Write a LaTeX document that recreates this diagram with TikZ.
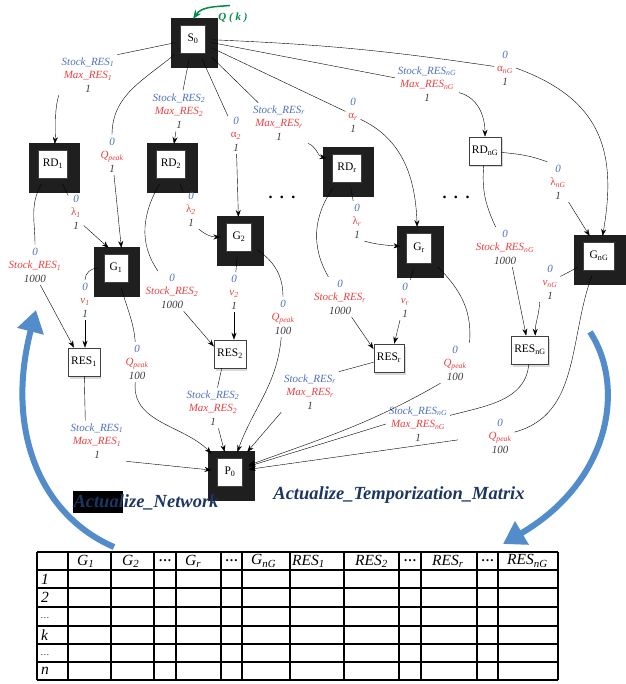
\documentclass[tikz,border=0pt]{standalone}
\usepackage{fontspec}
\setmainfont{Liberation Serif}
\usetikzlibrary{arrows.meta,shadows}
\pgfdeclarelayer{back}
\pgfsetlayers{back,main}

\definecolor{lblue}{RGB}{76,112,196}
\definecolor{lred}{RGB}{236,64,64}
\definecolor{lgray}{RGB}{60,60,60}
\definecolor{qgreen}{RGB}{0,140,70}
\definecolor{bigblue}{RGB}{82,140,202}
\definecolor{navy}{RGB}{28,54,100}

\newcommand{\trio}[3]{\textcolor{lblue}{#1}\\\textcolor{lred}{#2}\\\textcolor{lgray}{#3}}
\newcommand{\stk}[1]{Stock\_RES\textsubscript{#1}}
\newcommand{\mx}[1]{Max\_RES\textsubscript{#1}}
\newcommand{\qpk}{Q\textsubscript{peak}}
\newcommand{\gk}[2]{\textup{#1}\textsubscript{#2}}
\newcommand{\rdots}{{\fontsize{9}{9}\selectfont\ldots}}

\tikzset{
	box/.style={draw=black!75, line width=0.6pt, fill=white, minimum width=25pt, minimum height=28pt, inner sep=3pt, font=\fontsize{11.5}{12}\selectfont},
	dark/.style={box, outer sep=6pt},
	soft/.style={box, drop shadow={opacity=0.3, shadow xshift=1.5pt, shadow yshift=-2.5pt}},
	lab/.style={align=center, inner sep=1pt, outer sep=2pt, font=\fontsize{11}{13.5}\selectfont\itshape},
	act/.style={text=navy, font=\fontsize{18.5}{18.5}\selectfont\bfseries\itshape, inner sep=1pt},
	big/.style={bigblue, line width=6pt, -{Triangle[length=22pt,width=26pt]}},
	cell/.style={font=\fontsize{15.5}{15.5}\selectfont\itshape, inner sep=0pt, anchor=west},
	ell/.style={font=\fontsize{16}{16}\selectfont\bfseries},
}

\begin{document}
\begin{tikzpicture}[x=1pt,y=1pt,>={Stealth[length=7pt,width=5pt]},line width=0.7pt]
	\useasboundingbox (0,0) rectangle (625,-684);

	% The boxes
	\node[dark] (s0) at (193,-39) {S\textsubscript{0}};
	\node[dark,minimum width=29pt] (rd1) at (53,-164) {RD\textsubscript{1}};
	\node[dark,minimum width=29pt] (rd2) at (171,-164) {RD\textsubscript{2}};
	\node[dark,minimum width=29pt] (rdr) at (347,-168) {RD\textsubscript{r}};
	\node[soft] (rdng) at (485,-151) {RD\textsubscript{nG}};
	\node[dark,minimum width=24pt] (g1) at (116,-268) {G\textsubscript{1}};
	\node[dark] (g2) at (239,-237) {G\textsubscript{2}};
	\node[dark,minimum height=30pt] (gr) at (419,-248) {G\textsubscript{r}};
	\node[dark,minimum width=31pt] (gng) at (599,-256) {G\textsubscript{nG}};
	\node[soft] (res1) at (84,-362) {RES\textsubscript{1}};
	\node[soft] (res2) at (230,-354) {RES\textsubscript{2}};
	\node[soft] (resr) at (389,-358) {RES\textsubscript{r}};
	\node[soft] (resng) at (530,-350) {RES\textsubscript{nG}};
	\node[dark] (p0) at (230,-472) {P\textsubscript{0}};

	% The dark frames
	\begin{pgfonlayer}{back}
		\foreach \n in {s0,rd1,rd2,rdr,g1,g2,gr,gng,p0}
			\fill[black!88] ([shift={(-4,1)}]\n.north west) rectangle ([shift={(6,-9)}]\n.south east);
	\end{pgfonlayer}

	% The labels
	\node[lab] (l1) at (88,-75) {\trio{\stk{1}}{\mx{1}}{1}};
	\node[lab] (l2) at (112,-155) {\trio{0}{\qpk}{1}};
	\node[lab] (l3) at (179,-111) {\trio{\stk{2}}{\mx{2}}{1}};
	\node[lab] (l4) at (236,-134) {\trio{0}{\gk{α}{2}}{1}};
	\node[lab] (l5) at (279,-123) {\trio{\stk{r}}{\mx{r}}{1}};
	\node[lab] (l6) at (353,-115) {\trio{0}{\gk{α}{r}}{1}};
	\node[lab] (l7) at (427,-84) {\trio{\stk{nG}}{\mx{nG}}{1}};
	\node[lab] (l8) at (505,-68) {\trio{0}{\gk{α}{nG}}{1}};
	\node[lab] (l9) at (76,-212) {\trio{0}{\gk{λ}{1}}{1}};
	\node[lab] (l10) at (35,-265) {\trio{0}{\stk{1}}{1000}};
	\node[lab] (l11) at (85,-300) {\trio{0}{v\textsubscript{1}}{1}};
	\node[lab] (l12) at (137,-362) {\trio{0}{\qpk}{100}};
	\node[lab] (l13) at (172,-291) {\trio{0}{\stk{2}}{1000}};
	\node[lab] (l14) at (191,-209) {\trio{0}{\gk{λ}{2}}{1}};
	\node[lab] (l15) at (234,-292) {\trio{0}{v\textsubscript{2}}{1}};
	\node[lab] (l16) at (283,-317) {\trio{0}{\qpk}{100}};
	\node[lab] (l17) at (213,-408) {\trio{\stk{2}}{\mx{2}}{1}};
	\node[lab] (l18) at (97,-441) {\trio{\stk{1}}{\mx{1}}{1}};
	\node[lab] (l19) at (357,-221) {\trio{0}{\gk{λ}{r}}{1}};
	\node[lab] (l20) at (340,-297) {\trio{0}{\stk{r}}{1000}};
	\node[lab] (l21) at (405,-300) {\trio{0}{v\textsubscript{r}}{1}};
	\node[lab] (l22) at (455,-363) {\trio{0}{\qpk}{100}};
	\node[lab] (l23) at (310,-392) {\trio{\stk{r}}{\mx{r}}{1}};
	\node[lab] (l24) at (505,-247) {\trio{0}{\stk{nG}}{1000}};
	\node[lab] (l25) at (558,-182) {\trio{0}{\gk{λ}{nG}}{1}};
	\node[lab] (l26) at (550,-282) {\trio{0}{v\textsubscript{nG}}{1}};
	\node[lab] (l27) at (500,-436) {\trio{0}{\qpk}{100}};
	\node[lab] (l28) at (418,-424) {\trio{\stk{nG}}{\mx{nG}}{1}};

	\node[ell] (dots1) at (282,-197) {.\hspace{7.5pt}.\hspace{7.5pt}.};
	\node[ell] (dots2) at (456,-197) {.\hspace{7.5pt}.\hspace{7.5pt}.};

	% The input
	\node[text=qgreen, font=\fontsize{11}{11}\selectfont\bfseries\itshape] (qk) at (233,-18) {Q ( k )};
	\draw[-{Stealth[length=9pt,width=7pt]},qgreen,line width=1.5pt] ([shift={(-3,4)}]qk.north) to[out=185,in=55] (s0.north);

	% Edges out of the source
	\draw (s0) -- (l1.north east);
	\draw[->] (l1.south west) to[out=-105,in=85] (rd1);
	\draw (s0) to[out=220,in=90] (l2);
	\draw[->] (l2) -- (g1.75);
	\draw (s0) -- (l3);
	\draw[->] (l3) -- (rd2);
	\draw (s0) -- (l4);
	\draw[->] (l4) -- (g2);
	\draw (s0) -- (l5);
	\draw[->] (l5.south east) to[out=-20,in=165] (rdr.155);
	\draw (s0) -- (l6);
	\draw[->] (l6.-30) to[out=-25,in=92] (gr.95);
	\draw (s0) -- (l7);
	\draw[->] (l7.-15) to[out=-15,in=90] (rdng);
	\draw (s0) to[bend left=3] (l8);
	\draw[->] (l8.east) to[out=-20,in=80,looseness=1.2] (gng.80);

	% First group
	\draw (rd1) -- (l9);
	\draw[->] (l9.-60) -- (g1.110);
	\draw (rd1) to[out=-120,in=90] (l10);
	\draw[->] (l10.-75) -- (res1.125);
	\draw (g1) to[out=180,in=90] (l11);
	\draw[->] (l11) -- (l11 |- res1.north);
	\draw (g1) to[out=-75,in=95] (l12);
	\draw[->] (l12) to[out=-95,in=135] (p0);
	\draw (res1) -- (l18.120);
	\draw[->] (l18.south east) -- (p0);

	% Second group
	\draw (rd2) -- (l14);
	\draw[->] (l14.south east) to[out=-40,in=180] (g2);
	\draw (rd2) to[out=-120,in=125] (l13);
	\draw[->] (l13.-60) -- (res2.155);
	\draw (g2) -- (l15);
	\draw[->] (l15) -- (l15 |- res2.north);
	\draw (g2) to[out=-35,in=90] (l16);
	\draw[->] (l16) to[out=-95,in=70] (p0);
	\draw (res2.-120) -- (l17);
	\draw[->] (l17) -- (p0);

	% Group r
	\draw (rdr) -- (l19);
	\draw[->] (l19.south east) to[out=-15,in=175] (gr);
	\draw (rdr) to[out=-125,in=120] (l20);
	\draw[->] (l20.-60) -- (resr.150);
	\draw (gr) -- (l21);
	\draw[->] (l21) -- (resr.70);
	\draw (gr) to[out=-45,in=85] (l22.north east);
	\draw[->] (l22.south west) to[out=-150,in=20] (p0);
	\draw (resr) -- (l23.north east);
	\draw[->] (l23.south west) -- (p0);

	% Group nG
	\draw (rdng) to[out=-5,in=160] (l25.north west);
	\draw[->] (l25.south east) -- (gng.115);
	\draw (rdng) to[out=-95,in=115] (l24);
	\draw[->] (l24.-70) -- (resng.105);
	\draw (gng) -- (l26);
	\draw[->] (l26.south west) to[out=-92,in=90] (resng.70);
	\draw (gng) to[out=-110,in=15] (l27);
	\draw[->,shorten <=28pt] (l27.west) -- (p0);
	\draw (resng) to[out=-95,in=15] (l28);
	\draw[->] (l28.west) -- (p0);

	% The two loops
	\draw[big] (114,-547) .. controls (40,-515) and (5,-430) .. (36,-310);
	\draw[big] (590,-332) .. controls (625,-385) and (612,-480) .. (503,-544);
	\fill[black] (73,-491) rectangle (123,-513);
	\node[act] (actnet) at (146,-502) {Actualize\_Network};
	\node[act] (acttm) at (399,-495) {Actualize\_Temporization\_Matrix};

	% The matrix
	\foreach \y in {552,570,588,607,626,644,662,680}
		\draw[line width=1.5pt] (37,-\y) -- (558,-\y);
	\foreach \x in {37,68,111,154,176,221,242,290,344,399,421,477,498,558}
		\draw[line width=1.5pt] (\x,-552) -- (\x,-680);
	\foreach \x/\t [count=\i] in {77/G\textsubscript{1}, 122/G\textsubscript{2}, 185/G\textsubscript{r}, 251/G\textsubscript{nG}, 292/RES\textsubscript{1}, 355/RES\textsubscript{2}, 432/RES\textsubscript{r}, 507/RES\textsubscript{nG}}
		\node[cell] (h\i) at (\x,-561) {\t};
	\foreach \x [count=\i] in {165,231.5,410,487.5}
		\node[font=\fontsize{13}{13}\selectfont\bfseries] (d\i) at (\x,-561) {\ldots};
	\foreach \t/\y [count=\i] in {1/579, 2/597.5, \rdots/618, k/635, \rdots/655, n/671}
		\node[cell] (r\i) at (41,-\y) {\t};
\end{tikzpicture}
\end{document}
